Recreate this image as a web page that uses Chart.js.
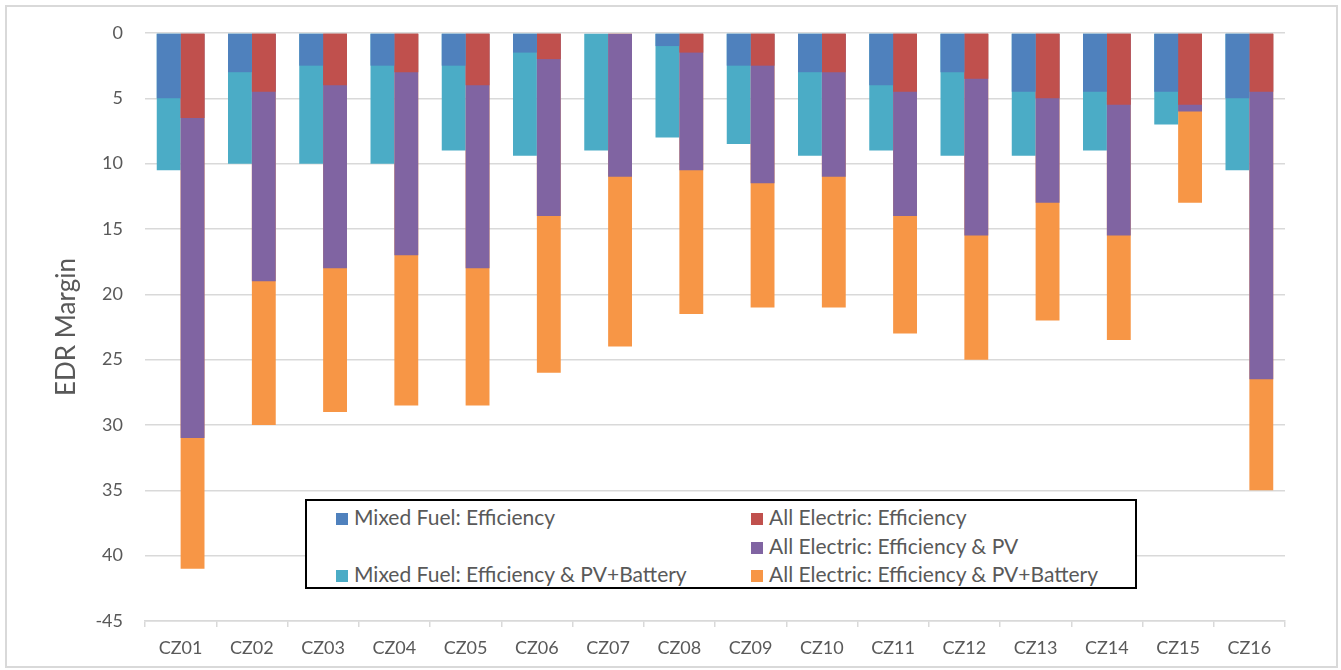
<!DOCTYPE html>
<html>
<head>
<meta charset="utf-8">
<script src="https://cdn.jsdelivr.net/npm/chart.js@4.4.1/dist/chart.umd.min.js"></script>
<style>
  html, body { margin: 0; padding: 0; background: #fff; }
  #wrap { position: relative; width: 1341px; height: 670px; overflow: hidden; }
  #frame { position: absolute; left: 5px; top: 5px; width: 1329px; height: 659px; border: 2px solid #d9d9d9; pointer-events: none; }
  #legend { position: absolute; left: 305px; top: 499px; width: 828px; height: 86px; border: 2px solid #000; background: #fff; font-family: Lato, "Noto Sans", sans-serif; font-size: 21px; color: #595959; }
  .li { position: absolute; white-space: nowrap; line-height: 20px; }
  .sw { display: inline-block; width: 12px; height: 12px; margin-right: 6px; vertical-align: 0px; }
</style>
</head>
<body>
<div id="wrap">
  <canvas id="c" width="1341" height="670"></canvas>
  <div id="frame"></div>
  <div id="legend"></div>
</div>
<script>
// ---- data ----
const categories = ['CZ01','CZ02','CZ03','CZ04','CZ05','CZ06','CZ07','CZ08','CZ09','CZ10','CZ11','CZ12','CZ13','CZ14','CZ15','CZ16'];
const mixedFuelEfficiency      = [-5, -3, -2.5, -2.5, -2.5, -1.5, 0, -1, -2.5, -3, -4, -3, -4.5, -4.5, -4.5, -5];
const mixedFuelPVBattery       = [-10.5, -10, -10, -10, -9, -9.4, -9, -8, -8.5, -9.4, -9, -9.4, -9.4, -9, -7, -10.5];
const allElectricEfficiency    = [-6.5, -4.5, -4, -3, -4, -2, 0, -1.5, -2.5, -3, -4.5, -3.5, -5, -5.5, -5.5, -4.5];
const allElectricPV            = [-31, -19, -18, -17, -18, -14, -11, -10.5, -11.5, -11, -14, -15.5, -13, -15.5, -6, -26.5];
const allElectricPVBattery     = [-41, -30, -29, -28.5, -28.5, -26, -24, -21.5, -21, -21, -23, -25, -22, -23.5, -13, -35];
const yTickValues = [0, -5, -10, -15, -20, -25, -30, -35, -40, -45];
const yTickLabels = ['0', '5', '10', '15', '20', '25', '30', '35', '40', '-45'];

const datasets = [
  { label: 'Mixed Fuel: Efficiency', data: mixedFuelEfficiency, backgroundColor: '#4f81bd', stack: 'mf' },
  { label: 'All Electric: Efficiency', data: allElectricEfficiency, backgroundColor: '#c0504d', stack: 'ae' },
  { label: 'All Electric: Efficiency & PV', data: allElectricPV, backgroundColor: '#8064a2', stack: 'ae' },
  { label: 'Mixed Fuel: Efficiency & PV+Battery', data: mixedFuelPVBattery, backgroundColor: '#4bacc6', stack: 'mf' },
  { label: 'All Electric: Efficiency & PV+Battery', data: allElectricPVBattery, backgroundColor: '#f79646', stack: 'ae' }
];
// legend cells (column, row) in the Excel-style legend box
const legendCells = [[0,0],[1,0],[1,1],[0,2],[1,2]];

const chart = new Chart(document.getElementById('c'), {
  type: 'bar',
  data: { labels: categories, datasets: datasets.map(d => Object.assign({ borderWidth: 0, categoryPercentage: 0.67, barPercentage: 1.0 }, d)) },
  options: {
    responsive: false,
    animation: false,
    devicePixelRatio: 1,
    layout: { padding: { left: 0, top: 33, right: 56, bottom: 0 } },
    plugins: { legend: { display: false }, tooltip: { enabled: false } },
    scales: {
      x: {
        stacked: true,
        grid: { display: true, drawOnChartArea: false, drawTicks: true, tickLength: 6, color: '#d9d9d9', lineWidth: 1.5, offset: true },
        border: { display: true, color: '#d9d9d9', width: 1.5 },
        ticks: { color: '#595959', font: { family: 'Lato', size: 18 }, padding: 10, maxRotation: 0 },
        afterFit: s => { s.height = 49; }
      },
      y: {
        stacked: false,
        min: -45, max: 0,
        afterBuildTicks: s => { s.ticks = yTickValues.slice().reverse().map(v => ({ value: v })); },
        grid: { color: '#d9d9d9', lineWidth: 1.5, drawTicks: false },
        border: { display: false },
        ticks: {
          color: '#595959', font: { family: 'Lato', size: 18 }, padding: 22,
          callback: v => { const i = yTickValues.indexOf(v); return i >= 0 ? yTickLabels[i] : ''; }
        },
        title: { display: true, text: 'EDR Margin', color: '#595959', font: { family: 'Lato', size: 26 }, padding: { top: 51, bottom: 0 } },
        afterFit: s => { s.width = 145; }
      }
    }
  }
});

// HTML legend
const lg = document.getElementById('legend');
const colX = [29, 444];
const rowY = [6, 35, 63];
datasets.forEach((d, i) => {
  const [c, r] = legendCells[i];
  const el = document.createElement('div');
  el.className = 'li';
  el.style.left = colX[c] + 'px';
  el.style.top = rowY[r] + 'px';
  el.innerHTML = '<span class="sw" style="background:' + d.backgroundColor + '"></span>' + d.label;
  lg.appendChild(el);
});
</script>
</body>
</html>
